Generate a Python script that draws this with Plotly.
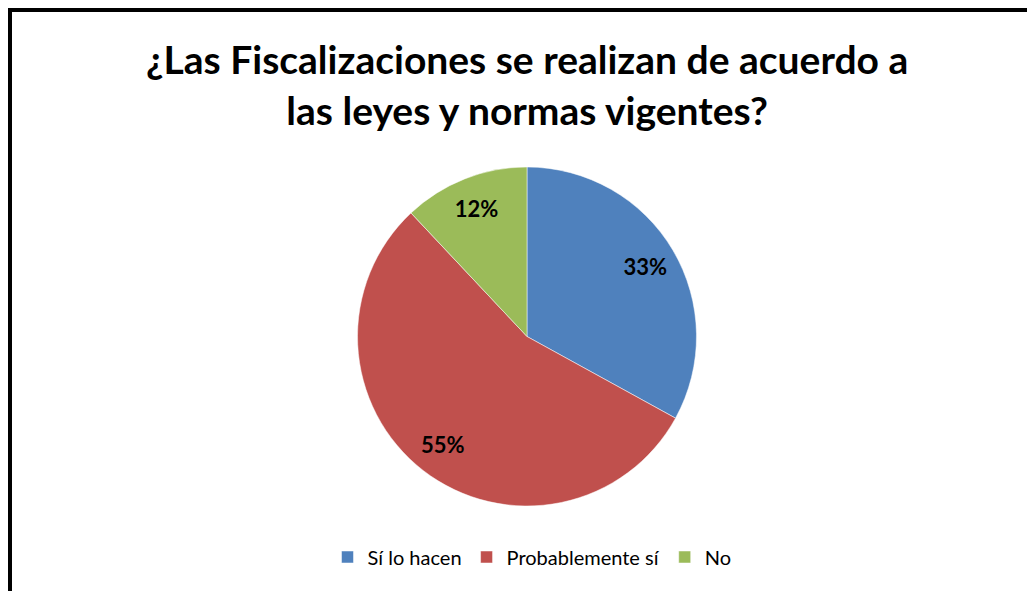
import plotly.graph_objs as go

categorias = ["Sí lo hacen", "Probablemente sí", "No"]
porcentajes = [33, 55, 12]
colores = ["#4F81BD", "#C0504D", "#9BBB59"]

# the page body adds an 8px margin, so the figure is 8px smaller than the window
W, H = 1027, 583
dominio = dict(x=[349 / W, 689 / W], y=[1 - 498 / H, 1 - 159 / H])

pastel = go.Pie(
    labels=categorias,
    values=porcentajes,
    sort=False,
    direction="clockwise",
    rotation=0,
    marker=dict(colors=colores, line=dict(color="white", width=0.5)),
    textinfo="none",
    domain=dominio,
    hoverinfo="label+percent",
)

# transparent ring only used to push the percentage labels outward
etiquetas = go.Pie(
    labels=categorias,
    values=porcentajes,
    sort=False,
    direction="clockwise",
    rotation=0,
    hole=0.62,
    marker=dict(colors=["rgba(0,0,0,0)"] * 3, line=dict(width=0)),
    texttemplate="%{percent:.0%}",
    textposition="inside",
    insidetextorientation="horizontal",
    textfont=dict(family="Lato", size=22, color="black", weight="bold"),
    domain=dominio,
    showlegend=False,
    hoverinfo="skip",
)

fig = go.Figure(data=[pastel, etiquetas])
fig.update_layout(
    width=W, height=H,
    margin=dict(l=0, r=0, t=0, b=0),
    paper_bgcolor="white",
    showlegend=True,
    legend=dict(
        orientation="h", x=524 / W, xanchor="center", y=1 - 549 / H, yanchor="middle",
        font=dict(family="Lato", size=20, color="black"),
        itemwidth=30,
    ),
    annotations=[
        dict(text="¿Las Fiscalizaciones se realizan de acuerdo a<br>las leyes y normas vigentes?",
             x=519 / W, y=1 - 77 / H, xref="paper", yref="paper", showarrow=False,
             xanchor="center", yanchor="middle",
             font=dict(family="Lato", size=39, color="black", weight="bold")),
    ],
    shapes=[
        dict(type="rect", xref="paper", yref="paper",
             x0=2 / W, x1=1.05, y0=-0.05, y1=1 - 2 / H,
             line=dict(color="black", width=4), fillcolor="rgba(0,0,0,0)"),
    ],
)

fig.write_html("out.html")
